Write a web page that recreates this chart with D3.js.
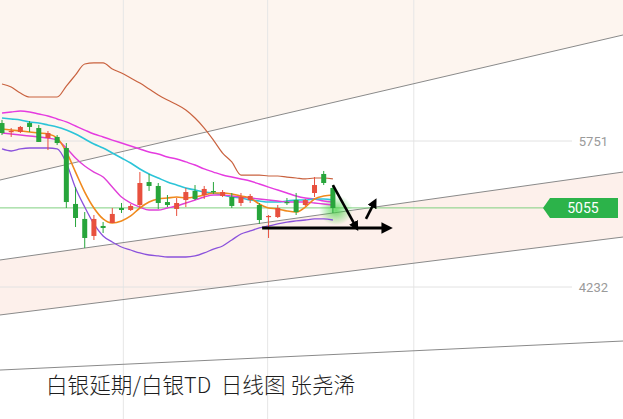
<!DOCTYPE html>
<html><head><meta charset="utf-8">
<script src="https://cdn.jsdelivr.net/npm/d3@7/dist/d3.min.js"></script>
<style>body{margin:0;background:#fff}svg{display:block}</style>
</head><body>
<svg id="c" width="623" height="419"></svg>
<script>
// ---- data (daily candles, silver deferred / 白银TD) ----
const open  = [5938,5845,5845,5938,5886,5782,5793,5678,5096,4940,4763,4867,4898,5054,5033,5085,5324,5283,5116,5044,5137,5231,5189,5231,5179,5168,5106,5137,5085,4960,4960,5116,5137,5085,5210,5408,5262];
const high  = [5970,5886,5907,5959,5918,5855,5813,5730,5272,5012,4981,4908,5054,5106,5096,5428,5408,5314,5189,5158,5262,5293,5283,5324,5241,5210,5210,5200,5106,4981,5085,5158,5210,5148,5376,5439,5293];
const low   = [5813,5793,5834,5845,5741,5657,5709,5054,4856,4638,4721,4794,4898,5002,5023,5054,5231,5044,5064,4971,5064,5137,5148,5200,5168,5054,5075,5106,4888,4742,4950,5085,4981,5075,5168,5293,5002];
const close = [5834,5855,5897,5897,5741,5834,5730,5116,4950,4742,4940,4846,4992,5033,5075,5314,5283,5106,5085,5106,5220,5148,5252,5220,5220,5075,5168,5179,4929,4971,5054,5106,5012,5137,5293,5314,5054];

const ma5   = [5876,5865,5855,5845,5834,5824,5782,5637,5428,5220,5054,4940,4898,4919,4971,5054,5116,5148,5158,5168,5158,5168,5189,5210,5210,5200,5179,5158,5096,5054,5044,5023,5012,5064,5148,5179,5189];
const ma10  = [5834,5824,5813,5803,5793,5782,5761,5678,5574,5491,5428,5376,5272,5168,5106,5064,5033,5033,5054,5075,5106,5137,5168,5189,5189,5179,5168,5158,5148,5137,5127,5116,5116,5116,5106,5096,5085];
const ma20  = [5990,5980,5970,5949,5938,5918,5897,5865,5824,5772,5720,5678,5626,5574,5522,5460,5408,5366,5324,5293,5262,5241,5220,5210,5189,5168,5158,5137,5127,5116,5116,5127,5137,5137,5148,5148,5137];
const ma30  = [6042,6053,6063,6053,6032,6011,5980,5949,5907,5865,5824,5793,5761,5730,5699,5668,5637,5616,5585,5564,5533,5501,5460,5428,5397,5376,5356,5335,5304,5272,5241,5210,5179,5158,5148,5127,5116];
const bbUp  = [6344,6313,6250,6209,6209,6209,6209,6323,6438,6552,6563,6563,6500,6458,6406,6354,6292,6230,6178,6130,6074,5990,5886,5761,5626,5533,5397,5397,5397,5387,5387,5376,5366,5356,5366,5366,5356];
const bbLow = [5668,5647,5668,5678,5678,5678,5668,5522,5262,5064,4888,4763,4700,4648,4617,4586,4565,4555,4544,4544,4544,4555,4586,4627,4659,4721,4783,4815,4846,4867,4888,4908,4919,4929,4940,4940,4929];

const yTicks = [5751, 4232];
const lastPrice = 5055;
const vGrid = [13.2, 28.9, 44.8];           // day-index positions of separators
// trend / channel lines: [dayA, priceA, dayB, priceB]
const channels = [
  [-0.22, 5345, 67.57, 6854],
  [-0.22, 4513, 67.57, 5428],
  [-0.22, 3941, 67.57, 4752],
  [-0.22, 3368, 67.57, 3670]
];
// annotation arrows: [dayA, priceA, dayB, priceB]
const arrows = [
  [28.3, 4846, 41.9, 4846],
  [36.0, 5293, 38.5, 4860],
  [39.6, 4940, 40.5, 5110]
];
const title = "白银延期/白银TD  日线图 张尧浠";

// ---- drawing ----
const W = 623, H = 419;
const svg = d3.select("#c");
const x = d3.scaleLinear().domain([0, 36]).range([2, 332.9]);
const y = d3.scaleLinear().domain([4232, 5751]).range([287, 141]);

const defs = svg.append("defs");
const g = defs.append("radialGradient").attr("id","glow");
g.append("stop").attr("offset","0%").attr("stop-color","#3fd03f").attr("stop-opacity",0.75);
g.append("stop").attr("offset","100%").attr("stop-color","#3fd03f").attr("stop-opacity",0);
defs.append("marker").attr("id","ah").attr("viewBox","0 0 10 10").attr("refX",5).attr("refY",5)
  .attr("markerWidth",3.8).attr("markerHeight",3.8).attr("orient","auto")
  .append("path").attr("d","M0,0 L10,5 L0,10 Z").attr("fill","#000");

svg.append("rect").attr("width",W).attr("height",H).attr("fill","#fff");

const cpt = c => [[x(c[0]), y(c[1])], [x(c[2]), y(c[3])]];
// peach zones
{
  const [a,b] = cpt(channels[0]);
  svg.append("path").attr("d",`M0,0 L${W},0 L${b[0]},${b[1]} L${a[0]},${a[1]} Z`).attr("fill","#fdf5ef");
  const [c1,c2] = cpt(channels[1]);
  const [d1,d2] = cpt(channels[2]);
  svg.append("path").attr("d",`M${c1[0]},${c1[1]} L${c2[0]},${c2[1]} L${d2[0]},${d2[1]} L${d1[0]},${d1[1]} Z`).attr("fill","#fdf0eb");
}

// vertical separators
svg.selectAll(".vg").data(vGrid).join("line")
  .attr("x1",d=>x(d)).attr("x2",d=>x(d)).attr("y1",0).attr("y2",H)
  .attr("stroke","#e6e6e6").attr("stroke-width",1);

// horizontal price ticks
svg.selectAll(".hg").data(yTicks).join("line")
  .attr("x1",0).attr("x2",572).attr("y1",d=>y(d)).attr("y2",d=>y(d))
  .attr("stroke","#e2e2e2").attr("stroke-width",1);
svg.selectAll(".hl").data(yTicks).join("text")
  .attr("x",608).attr("y",d=>y(d)+5).attr("text-anchor","end")
  .attr("font-family","Roboto, 'Liberation Sans', sans-serif").attr("font-size",13).attr("fill","#9a9a9a")
  .text(d=>d);

// channel lines
svg.selectAll(".ch").data(channels).join("line")
  .attr("x1",d=>x(d[0])).attr("y1",d=>y(d[1])).attr("x2",d=>x(d[2])).attr("y2",d=>y(d[3]))
  .attr("stroke","#8a8a8a").attr("stroke-width",1);

// last price line
svg.append("line").attr("x1",0).attr("x2",545).attr("y1",y(lastPrice)).attr("y2",y(lastPrice))
  .attr("stroke","#7fd07f").attr("stroke-width",1);

// glow behind last candle
svg.append("ellipse").attr("cx",x(36)+3).attr("cy",y(5030)).attr("rx",17).attr("ry",15).attr("fill","url(#glow)");

// indicator lines
const idx = d3.range(open.length);
const lineGen = arr => d3.line().x(i=>x(i)).y(i=>y(arr[i])).curve(d3.curveMonotoneX)(idx);
const series = [
  [bbUp,"#c9623f",1.2],[bbLow,"#8b52dc",1.3],[ma30,"#e53be0",1.4],[ma20,"#2cc4d8",1.6],
  [ma10,"#e03fd8",1.4],[ma5,"#f0891c",1.6]
];
series.forEach(([arr,col,w]) => svg.append("path").attr("d",lineGen(arr)).attr("fill","none").attr("stroke",col).attr("stroke-width",w));

// candles
const up = "#e8503e", dn = "#27a53b";
const cg = svg.append("g");
idx.forEach(i => {
  const col = close[i] >= open[i] ? up : dn;
  cg.append("line").attr("x1",x(i)).attr("x2",x(i)).attr("y1",y(high[i])).attr("y2",y(low[i])).attr("stroke",col).attr("stroke-width",1);
  const top = y(Math.max(open[i],close[i])), bot = y(Math.min(open[i],close[i]));
  cg.append("rect").attr("x",x(i)-2.5).attr("width",5).attr("y",top).attr("height",Math.max(1.2,bot-top)).attr("fill",col);
});

// arrows
svg.selectAll(".ar").data(arrows).join("line")
  .attr("x1",d=>x(d[0])).attr("y1",d=>y(d[1])).attr("x2",d=>x(d[2])).attr("y2",d=>y(d[3]))
  .attr("stroke","#000").attr("stroke-width",(d,i)=> i===0?3:2.6).attr("marker-end","url(#ah)");

// last price tag
{
  const ty = y(lastPrice);
  svg.append("path").attr("d",`M543,${ty} L550,${ty-10} L618,${ty-10} L618,${ty+10} L550,${ty+10} Z`).attr("fill","#2cb34a");
  svg.append("text").attr("x",583).attr("y",ty+5).attr("text-anchor","middle")
    .attr("font-family","Roboto, 'Liberation Sans', sans-serif").attr("font-size",14).attr("fill","#fff").text(lastPrice);
}

// title
svg.append("text").attr("x",46).attr("y",393)
  .attr("xml:space","preserve").style("white-space","pre")
  .attr("font-family","'Noto Sans CJK SC', sans-serif").attr("font-weight",300).attr("font-size",21.6).attr("fill","#1e1e1e")
  .text(title);
</script>
</body></html>
